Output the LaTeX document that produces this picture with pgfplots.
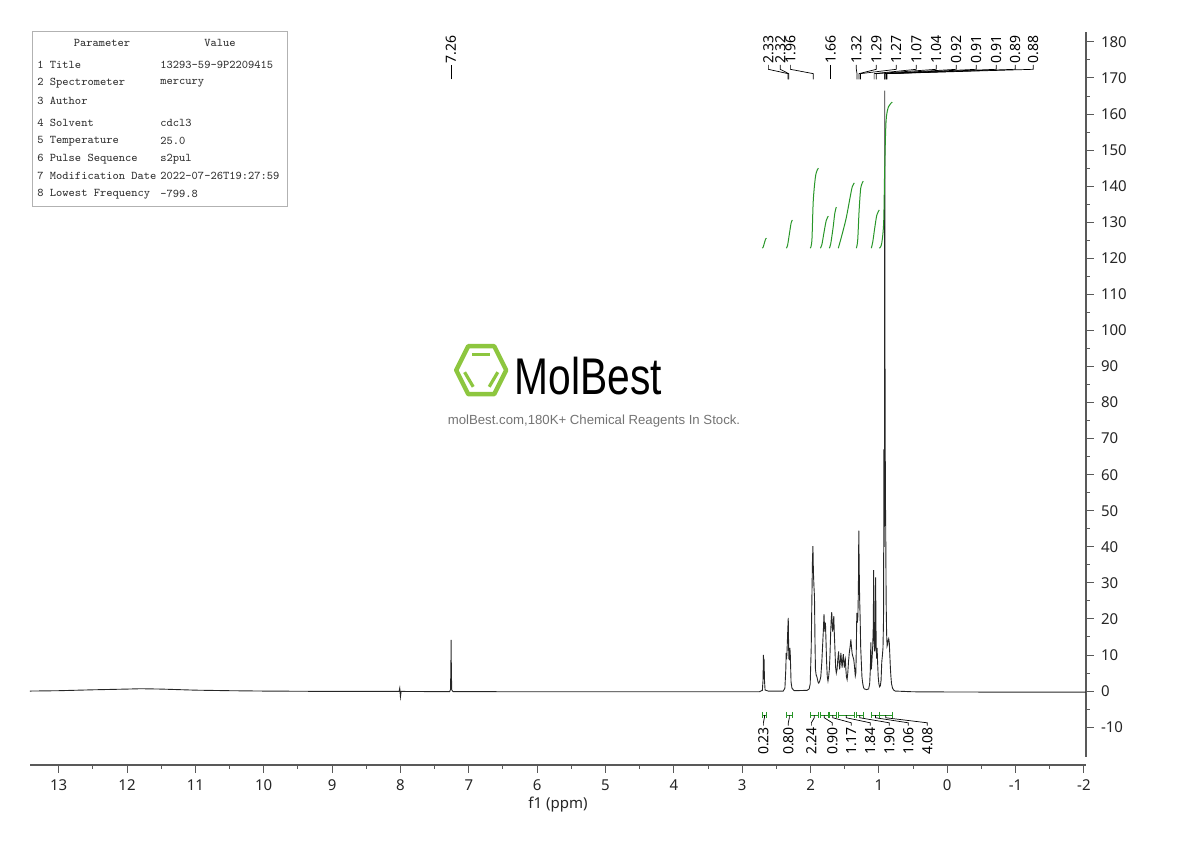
\documentclass[border=0pt]{standalone}
\usepackage{fontspec}
\setmainfont{Noto Sans}
\newfontfamily\wmfont{Liberation Sans}
\usepackage{graphicx}
\usepackage{pgfplots}
\pgfplotsset{compat=1.18}
\definecolor{integ}{RGB}{40,150,40}
\definecolor{logogreen}{RGB}{141,198,63}
\newcommand{\lblfont}{\fontsize{7}{8}\selectfont}
\newcommand{\tabfont}{\ttfamily\fontsize{5.9}{7}\selectfont}

% peak label: label ppm, peak ppm, text
\newcommand{\pk}[3]{%
  \draw[black, line width=0.35pt] (axis cs:#1,173.6) -- (axis cs:#1,172.4)
    -- (axis cs:#2,171.2) -- (axis cs:#2,169.6);
  \node[rotate=90, anchor=west, font=\lblfont, inner sep=0.5pt] at (axis cs:#1,173.6) {#3};}
% integral: from, to, centre, label ppm, text
\newcommand{\ig}[5]{%
  \draw[integ, line width=0.45pt] (axis cs:#1,-6.66) -- (axis cs:#2,-6.66);
  \draw[integ, line width=0.45pt] (axis cs:#1,-5.8) -- (axis cs:#1,-7.5);
  \draw[integ, line width=0.45pt] (axis cs:#2,-5.8) -- (axis cs:#2,-7.5);
  \draw[black, line width=0.35pt] (axis cs:#3,-6.66) -- (axis cs:#3,-7.4)
    -- (axis cs:#4,-8.8) -- (axis cs:#4,-9.6);
  \node[rotate=90, anchor=east, font=\lblfont, inner sep=0.5pt] at (axis cs:#4,-9.6) {#5};}

\begin{document}
\begin{tikzpicture}
\begin{axis}[
  at={(0pt,0pt)}, anchor=south west,
  scale only axis, width=528pt, height=366.5pt,
  x dir=reverse, xmin=-2.03, xmax=13.42, ymin=-20.5, ymax=182.75,
  axis x line=bottom, axis y line=right,
  axis line style={-, black!65, line width=0.6pt},
  y axis line style={shorten <=4pt},
  xtick={-2,-1,...,13}, minor x tick num=1,
  ytick={-10,0,...,180}, minor y tick num=1,
  tick align=outside, major tick length=4pt, minor tick length=2pt,
  tick style={black!65, line width=0.5pt},
  tick label style={font=\fontsize{7.5}{8}\selectfont, black!85},
  /pgf/number format/assume math mode=true,
  xlabel={f1 (ppm)}, xlabel style={font=\fontsize{7.5}{8}\selectfont, black!85, yshift=4pt},
  clip=false,
]
% spectrum
\addplot[black!85, line width=0.45pt, sharp plot] coordinates {
(13.42,0.0) (13.0,0.1) (12.5,0.35) (12.0,0.55) (11.8,0.65) (11.5,0.55) (11.0,0.25)
(10.5,0.1) (10.0,0.0) (9.0,-0.1) (8.02,-0.1) (8.01,0.8) (8.0,-1.6) (7.99,-0.1)
(7.5,-0.15) (7.28,-0.15) (7.268,0.4) (7.262,6) (7.259,14.2) (7.255,6) (7.25,0.3)
(7.23,-0.15) (6.0,-0.2) (5.0,-0.2) (4.0,-0.2) (3.0,-0.2) (2.75,-0.2)
(2.705,0.2) (2.695,3) (2.689,10) (2.684,7.5) (2.680,8.8) (2.674,3) (2.665,0.3)
(2.62,0) (2.40,0) (2.375,0.8) (2.362,6) (2.356,10.6) (2.350,8.8) (2.344,11)
(2.333,17) (2.326,20.3) (2.318,9) (2.311,8.8) (2.302,12) (2.296,10) (2.285,2.5)
(2.272,0.8) (2.24,0.1) (2.05,0.2) (2.020,0.6) (2.005,2) (1.990,12) (1.980,26)
(1.972,36) (1.965,40.2) (1.958,33) (1.950,29) (1.942,26) (1.935,14) (1.928,6)
(1.918,4.5) (1.905,3.8) (1.890,2.5) (1.880,2.2) (1.865,2.8) (1.850,4) (1.835,8)
(1.825,12) (1.812,17) (1.803,21.3) (1.796,18) (1.790,16.5) (1.782,19) (1.774,14)
(1.765,8) (1.755,4) (1.745,2.8) (1.735,4) (1.725,6) (1.716,9.7) (1.706,16)
(1.697,20) (1.690,21.9) (1.683,19) (1.677,16.5) (1.668,17.8) (1.660,20.8)
(1.652,16) (1.643,11.6) (1.633,6.5) (1.623,5) (1.612,6) (1.600,9) (1.589,11)
(1.582,8) (1.574,6) (1.565,8) (1.556,10.6) (1.548,8.5) (1.538,6.5) (1.528,9)
(1.520,10.2) (1.512,8) (1.505,6.5) (1.497,8.2) (1.491,8.8) (1.483,6) (1.475,4)
(1.465,3.2) (1.455,5) (1.445,8) (1.433,10.6) (1.420,12.5) (1.410,14.3) (1.400,12)
(1.392,10.5) (1.380,9.5) (1.368,8.8) (1.358,7) (1.345,4.2) (1.337,5) (1.330,12)
(1.323,21.7) (1.315,19) (1.307,20.8) (1.300,28) (1.294,44.5) (1.288,34) (1.282,26)
(1.274,20) (1.266,12) (1.257,8) (1.248,4) (1.238,2.3) (1.225,1) (1.213,0.6)
(1.18,0.4) (1.150,0.6) (1.135,2) (1.125,6) (1.118,13.5) (1.111,6) (1.104,7.9)
(1.097,10) (1.090,12.5) (1.082,18) (1.076,33.5) (1.069,14) (1.062,11) (1.055,12)
(1.048,31.5) (1.040,13) (1.033,9) (1.026,12) (1.019,8) (1.010,4) (1.000,2)
(0.990,1.2) (0.978,1.5) (0.968,3) (0.958,8) (0.948,10) (0.940,12) (0.932,20)
(0.926,67) (0.922,40) (0.918,60) (0.914,166.5) (0.910,90) (0.905,55) (0.900,45)
(0.894,25) (0.887,16) (0.880,12.5) (0.872,13) (0.864,14) (0.856,14.5) (0.848,13.5)
(0.840,10) (0.832,6.5) (0.824,4) (0.815,2) (0.800,0.8) (0.785,0.3) (0.76,0.0)
(0.5,-0.2) (0.0,-0.25) (-1.0,-0.3) (-2.03,-0.3)
};
% integral curves
\addplot[integ, line width=0.5pt, smooth] coordinates {(2.705,122.8) (2.693,123.1) (2.676,124.2) (2.658,125.3) (2.646,125.6)};
\addplot[integ, line width=0.5pt, smooth] coordinates {(2.354,122.8) (2.336,123.6) (2.310,126.7) (2.284,129.8) (2.266,130.6)};
\addplot[integ, line width=0.5pt, smooth] coordinates {(2.003,122.8) (1.980,125.0) (1.960,136) (1.925,143) (1.886,145)};
\addplot[integ, line width=0.5pt, smooth] coordinates {(1.857,122.8) (1.834,123.8) (1.800,127.5) (1.770,130.5) (1.740,131.7)};
\addplot[integ, line width=0.5pt, smooth] coordinates {(1.725,122.8) (1.705,124) (1.670,128.5) (1.645,132.5) (1.623,134.2)};
\addplot[integ, line width=0.5pt, smooth] coordinates {(1.594,122.8) (1.547,126) (1.480,131) (1.420,137) (1.390,139.8) (1.360,140.9)};
\addplot[integ, line width=0.5pt, smooth] coordinates {(1.330,122.8) (1.310,125) (1.290,133) (1.265,139.5) (1.228,141.4)};
\addplot[integ, line width=0.5pt, smooth] coordinates {(1.111,122.8) (1.090,124.5) (1.060,128.5) (1.030,132) (0.994,133.4)};
\addplot[integ, line width=0.5pt, smooth] coordinates {(0.994,122.8) (0.960,124) (0.930,130) (0.915,145) (0.895,158) (0.860,162) (0.804,163.3)};

% peak labels
\draw[black, line width=0.35pt] (axis cs:7.26,169.6) -- (axis cs:7.26,173.6);
\node[rotate=90, anchor=west, font=\lblfont, inner sep=0.5pt] at (axis cs:7.26,173.6) {7.26};
\pk{2.617}{2.33}{2.33}
\pk{2.442}{2.32}{2.32}
\pk{2.295}{1.96}{1.96}
\pk{1.705}{1.705}{1.66}
\pk{1.330}{1.32}{1.32}
\pk{1.038}{1.29}{1.29}
\pk{0.746}{1.27}{1.27}
\pk{0.453}{1.07}{1.07}
\pk{0.161}{1.04}{1.04}
\pk{-0.132}{0.92}{0.92}
\pk{-0.424}{0.91}{0.91}
\pk{-0.716}{0.91}{0.91}
\pk{-0.994}{0.89}{0.89}
\pk{-1.257}{0.88}{0.88}

% integrals
\ig{2.705}{2.646}{2.675}{2.690}{0.23}
\ig{2.354}{2.266}{2.31}{2.325}{0.80}
\ig{2.003}{1.886}{1.945}{1.988}{2.24}
\ig{1.857}{1.740}{1.80}{1.681}{0.90}
\ig{1.725}{1.623}{1.674}{1.404}{1.17}
\ig{1.594}{1.360}{1.477}{1.126}{1.84}
\ig{1.330}{1.228}{1.279}{0.848}{1.90}
\ig{1.111}{0.994}{1.05}{0.570}{1.06}
\ig{0.994}{0.804}{0.90}{0.292}{4.08}
\end{axis}

% parameter table
\draw[black!30, line width=0.5pt] (1.5pt,279pt) rectangle (128.5pt,366.5pt);
\begin{scope}[every node/.style={font=\tabfont, text=black!80, inner sep=0pt}]
\node at (36pt,361pt) {Parameter};
\node at (95pt,361pt) {Value};
\node[anchor=west] at (3.5pt,350pt) {1 Title};
\node[anchor=west] at (65pt,350pt) {13293-59-9P2209415};
\node[anchor=west] at (3.5pt,341pt) {2 Spectrometer};
\node[anchor=west] at (65pt,341pt) {mercury};
\node[anchor=west] at (3.5pt,332pt) {3 Author};
\node[anchor=west] at (3.5pt,321pt) {4 Solvent};
\node[anchor=west] at (65pt,321pt) {cdcl3};
\node[anchor=west] at (3.5pt,312pt) {5 Temperature};
\node[anchor=west] at (65pt,312pt) {25.0};
\node[anchor=west] at (3.5pt,303pt) {6 Pulse Sequence};
\node[anchor=west] at (65pt,303pt) {s2pul};
\node[anchor=west] at (3.5pt,294.5pt) {7 Modification Date};
\node[anchor=west] at (65pt,294.5pt) {2022-07-26T19:27:59};
\node[anchor=west] at (3.5pt,285.5pt) {8 Lowest Frequency};
\node[anchor=west] at (65pt,285.5pt) {-799.8};
\end{scope}

% watermark
\begin{scope}[shift={(225.6pt,197.4pt)}]
\draw[logogreen, line width=2.2pt, line join=round]
  (-12.5pt,0pt) -- (-6.5pt,12pt) -- (6.5pt,12pt) -- (12.5pt,0pt) -- (6.5pt,-12pt) -- (-6.5pt,-12pt) -- cycle;
\draw[logogreen, line width=1.6pt] (-4.5pt,7.8pt) -- (4.5pt,7.8pt);
\draw[logogreen, line width=1.6pt] (-8.3pt,-1pt) -- (-4pt,-8.3pt);
\draw[logogreen, line width=1.6pt] (8.3pt,-1pt) -- (4pt,-8.3pt);
\end{scope}
\node[anchor=base, inner sep=0pt] at (279.25pt,185pt)
  {\scalebox{0.79}[1]{\wmfont\fontsize{25.8}{26}\selectfont MolBest}};
\node[inner sep=0pt, text=black!55] at (282pt,172pt)
  {\wmfont\fontsize{6.6}{8}\selectfont molBest.com,180K+ Chemical Reagents In Stock.};

\pgfresetboundingbox
\path[use as bounding box] (-15pt,-38pt) rectangle (580pt,382.5pt);
\end{tikzpicture}
\end{document}
